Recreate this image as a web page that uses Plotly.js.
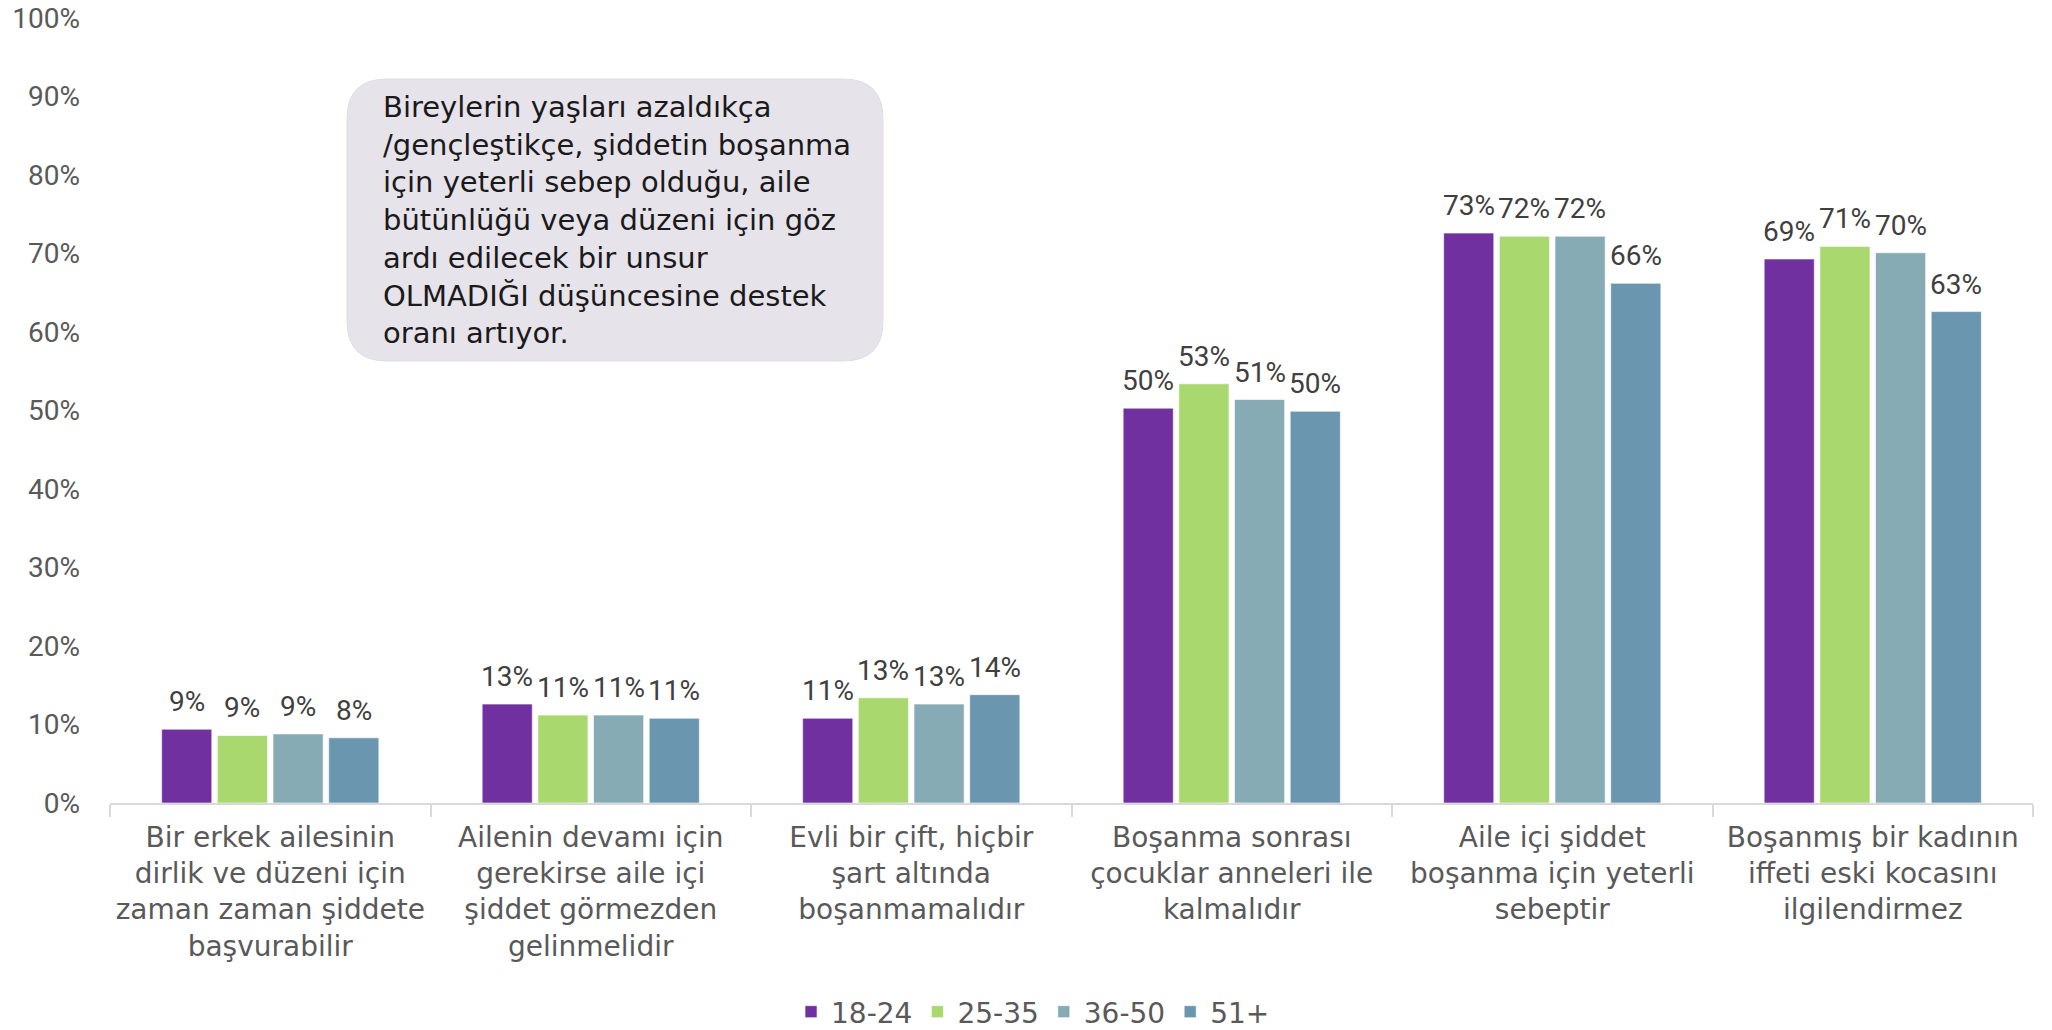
<!DOCTYPE html>
<html>
<head>
<meta charset="utf-8">
<script src="https://cdn.plot.ly/plotly-3.0.1.min.js"></script>
<style>
html,body{margin:0;padding:0;background:#fff;}
#chart{width:2052px;height:1030px;}
</style>
</head>
<body>
<div id="chart"></div>
<script>
const categories = [
  "Bir erkek ailesinin<br>dirlik ve düzeni için<br>zaman zaman şiddete<br>başvurabilir",
  "Ailenin devamı için<br>gerekirse aile içi<br>şiddet görmezden<br>gelinmelidir",
  "Evli bir çift, hiçbir<br>şart altında<br>boşanmamalıdır",
  "Boşanma sonrası<br>çocuklar anneleri ile<br>kalmalıdır",
  "Aile içi şiddet<br>boşanma için yeterli<br>sebeptir",
  "Boşanmış bir kadının<br>iffeti eski kocasını<br>ilgilendirmez"
];
const seriesNames = ["18-24", "25-35", "36-50", "51+"];
const age18_24 = [9.4, 12.6, 10.8, 50.3, 72.6, 69.3];
const age25_35 = [8.6, 11.2, 13.4, 53.4, 72.2, 70.9];
const age36_50 = [8.8, 11.2, 12.6, 51.4, 72.2, 70.1];
const age51p   = [8.3, 10.8, 13.8, 49.9, 66.2, 62.6];
const seriesColors = ["#7030A0", "#A9D86E", "#86ABB5", "#6A96B0"];
const yTickVals = [0,10,20,30,40,50,60,70,80,90,100];
const yTickText = yTickVals.map(v => v + "%");
const noteText = "Bireylerin yaşları azaldıkça<br>/gençleştikçe, şiddetin boşanma<br>için yeterli sebep olduğu, aile<br>bütünlüğü veya düzeni için göz<br>ardı edilecek bir unsur<br>OLMADIĞI düşüncesine destek<br>oranı artıyor.";

const FONT_N = "Roboto, 'Noto Sans', sans-serif";
const FONT = "'DejaVu Sans', 'Noto Sans', sans-serif";
const allSeries = [age18_24, age25_35, age36_50, age51p];

const BARGAP = 0.305;
const data = allSeries.map((vals, i) => ({
  type: "bar",
  name: seriesNames[i],
  x: categories,
  y: vals,
  marker: {color: seriesColors[i], line: {color: "rgba(255,255,255,0.6)", width: 1}},
  hoverinfo: "none"
}));

// value labels placed on the category axis at each bar's slot
const slot = (1 - BARGAP) / allSeries.length;
const labelAnnotations = [];
allSeries.forEach((vals, j) => {
  vals.forEach((v, i) => {
    labelAnnotations.push({
      xref: "x", yref: "y",
      x: i + (j - (allSeries.length - 1) / 2) * slot,
      y: v,
      text: Math.round(v) + "%",
      showarrow: false,
      xanchor: "center", yanchor: "bottom",
      yshift: 9,
      font: {family: FONT_N, size: 28, color: "#3f3f3f"}
    });
  });
});

// plot area geometry in px
const W = 2052, H = 1030;
const mL = 110, mR = 19, mT = 18, mB = 227;
const pw = W - mL - mR, ph = H - mT - mB;
// note box in pixels
const bx0 = 347, bx1 = 883, by0 = 79, by1 = 361, rad = 40;
const px = v => (v - mL) / pw;
const py = v => (H - mB - v) / ph;
const rx = rad / pw, ry = rad / ph;
const X0 = px(bx0), X1 = px(bx1), Y0 = py(by1), Y1 = py(by0);
const boxPath = `M ${X0+rx},${Y1} L ${X1-rx},${Y1} Q ${X1},${Y1} ${X1},${Y1-ry} L ${X1},${Y0+ry} Q ${X1},${Y0} ${X1-rx},${Y0} L ${X0+rx},${Y0} Q ${X0},${Y0} ${X0},${Y0+ry} L ${X0},${Y1-ry} Q ${X0},${Y1} ${X0+rx},${Y1} Z`;

const layout = {
  width: W, height: H,
  margin: {l: mL, r: mR, t: mT, b: mB, pad: 0, autoexpand: false},
  paper_bgcolor: "#ffffff",
  plot_bgcolor: "#ffffff",
  barmode: "group",
  bargap: BARGAP,
  bargroupgap: 0.1,
  font: {family: FONT, color: "#595959"},
  showlegend: true,
  legend: {
    orientation: "h",
    x: 0.48, xanchor: "center",
    yref: "container",
    y: (H - 1012) / H, yanchor: "middle",
    font: {family: FONT, size: 28, color: "#595959"},
    itemwidth: 30,
    traceorder: "normal"
  },
  xaxis: {
    type: "category",
    automargin: false,
    showline: true, linecolor: "#D9D9D9", linewidth: 2,
    ticks: "outside", tickson: "boundaries", ticklen: 12, tickcolor: "#D9D9D9", tickwidth: 2,
    tickfont: {family: FONT, size: 28, color: "#595959"},
    ticklabelstandoff: 8,
    showgrid: false, zeroline: false,
    fixedrange: true
  },
  yaxis: {
    range: [0, 100],
    automargin: false,
    tickmode: "array", tickvals: yTickVals, ticktext: yTickText,
    tickfont: {family: FONT_N, size: 28, color: "#595959"},
    showgrid: false, zeroline: false, showline: false,
    ticks: "", ticklabelstandoff: 29,
    fixedrange: true
  },
  shapes: [{
    type: "path", xref: "paper", yref: "paper",
    path: boxPath,
    fillcolor: "#E7E3EA",
    line: {color: "#E0DCE3", width: 1},
    layer: "above"
  }],
  annotations: labelAnnotations.concat([{
    xref: "paper", yref: "paper",
    x: px(381), y: py(88),
    xanchor: "left", yanchor: "top",
    align: "left",
    text: noteText,
    showarrow: false,
    font: {family: FONT, size: 29, color: "#1a1a1a"}
  }])
};

Plotly.newPlot("chart", data, layout, {displayModeBar: false, staticPlot: true});
</script>
</body>
</html>
